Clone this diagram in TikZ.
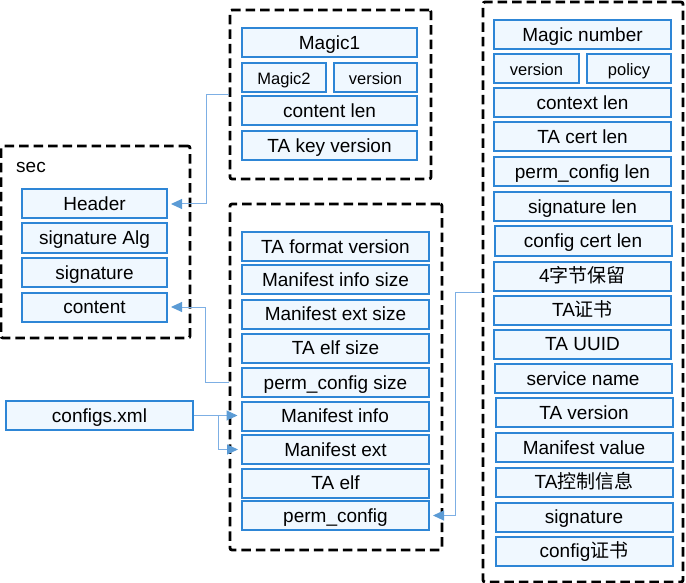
\documentclass[tikz,border=0pt]{standalone}
\usepackage{fontspec}
\setmainfont{Liberation Sans}
\newfontfamily\cjk{Noto Sans CJK SC}
\usetikzlibrary{arrows.meta}
\definecolor{boxline}{RGB}{46,134,214}
\definecolor{boxfill}{RGB}{240,248,255}
\definecolor{connline}{RGB}{125,175,228}
\definecolor{arrowc}{RGB}{91,155,213}
\tikzset{
  fld/.style={draw=boxline, fill=boxfill, line width=2pt, inner sep=0pt,
    minimum height=29pt, text height=16pt, text depth=2.6pt,
    font=\fontsize{19}{21}\selectfont},
  small/.style={font=\fontsize{16.5}{18}\selectfont},
  grp/.style={draw=black, line width=2.8pt, dash pattern=on 9.5pt off 5pt,
    rounded corners=2pt, inner sep=0pt},
  conn/.style={draw=connline, line width=1pt,
    -{Triangle[length=11pt,width=10pt,color=arrowc]}, shorten >=3pt},
  wsec/.style={fld, minimum width=145pt},
  wtop/.style={fld, minimum width=175pt},
  wmid/.style={fld, minimum width=187pt},
  wright/.style={fld, minimum width=177pt},
}
\begin{document}
\begin{tikzpicture}[x=1pt,y=-1pt]
\useasboundingbox (0,0) rectangle (686,583);
% group boxes
\node[grp, minimum width=189pt, minimum height=192pt] (secbox) at (95.5,242) {};
\node[grp, minimum width=201pt, minimum height=169pt] (topbox) at (330.5,94.5) {};
\node[grp, minimum width=212pt, minimum height=346pt] (midbox) at (336,377) {};
\node[grp, minimum width=200pt, minimum height=580pt] (rightbox) at (583,292) {};
% sec
\node[inner sep=0pt, font=\fontsize{19}{21}\selectfont] (seclabel) at (31,167) {sec};
\node[wsec] (header) at (94.5,204) {Header};
\node[wsec] (sigalg) at (94.5,238) {signature Alg};
\node[wsec] (sig) at (94.5,272.5) {signature};
\node[wsec] (content) at (94.5,307) {content};
% top
\node[wtop] (magic1) at (329.5,43) {Magic1};
\node[fld, small, minimum width=84pt] (magic2) at (284,78) {Magic2};
\node[fld, small, minimum width=83pt] (version1) at (375.5,78) {version};
\node[wtop] (contentlen) at (329.5,111) {content len};
\node[wtop] (takey) at (329.5,146) {TA key version};
% middle
\node[wmid] (tafmt) at (335.5,246.5) {TA format version};
\node[wmid] (minfosize) at (335.5,279.5) {Manifest info size};
\node[wmid] (mextsize) at (335.5,314) {Manifest ext size};
\node[wmid] (taelfsize) at (335.5,348) {TA elf size};
\node[wmid] (permsize) at (335.5,382.5) {perm\_config size};
\node[wmid] (minfo) at (335,416) {Manifest info};
\node[wmid] (mext) at (335.5,449.5) {Manifest ext};
\node[wmid] (taelf) at (335.5,483) {TA elf};
\node[wmid] (perm) at (335.5,515.5) {perm\_config};
% configs
\node[fld, minimum width=187pt] (configs) at (99.5,415.5) {configs.xml};
% right
\node[wright] (magicnum) at (582.5,34.5) {Magic number};
\node[fld, small, minimum width=85pt] (version2) at (536.5,68.5) {version};
\node[fld, small, minimum width=84pt] (policy) at (629,68.5) {policy};
\node[wright] (ctxlen) at (582.5,103) {context len};
\node[wright] (tacertlen) at (582.5,137) {TA cert len};
\node[wright] (permlen) at (582.5,172) {perm\_config len};
\node[wright] (siglen) at (582.5,206.5) {signature len};
\node[wright] (cfgcertlen) at (583,241) {config cert len};
\node[wright] (reserved) at (582.5,276) {4{\cjk 字节保留}};
\node[wright] (tacert) at (582.5,310) {TA{\cjk 证书}};
\node[wright] (uuid) at (582.5,344) {TA UUID};
\node[wright] (svcname) at (583,378.5) {service name};
\node[wright] (taver) at (584,412.5) {TA version};
\node[wright] (mvalue) at (584,447.5) {Manifest value};
\node[wright] (tactrl) at (584,482) {TA{\cjk 控制信息}};
\node[wright] (rsig) at (584,517) {signature};
\node[wright] (cfgcert) at (584,551) {config{\cjk 证书}};
% connectors
\draw[conn] (topbox.west) -- ++(-22,0) |- (header.east);
\draw[conn] (midbox.west |- permsize) -- ++(-23,0) |- (content.east);
\draw[conn] (configs.east) -- (configs.east -| minfo.west);
\draw[conn] (configs.east) -- ++(24,0) |- (mext.west);
\draw[conn] (rightbox.west) -- ++(-26,0) |- (perm.east);
\end{tikzpicture}
\end{document}
